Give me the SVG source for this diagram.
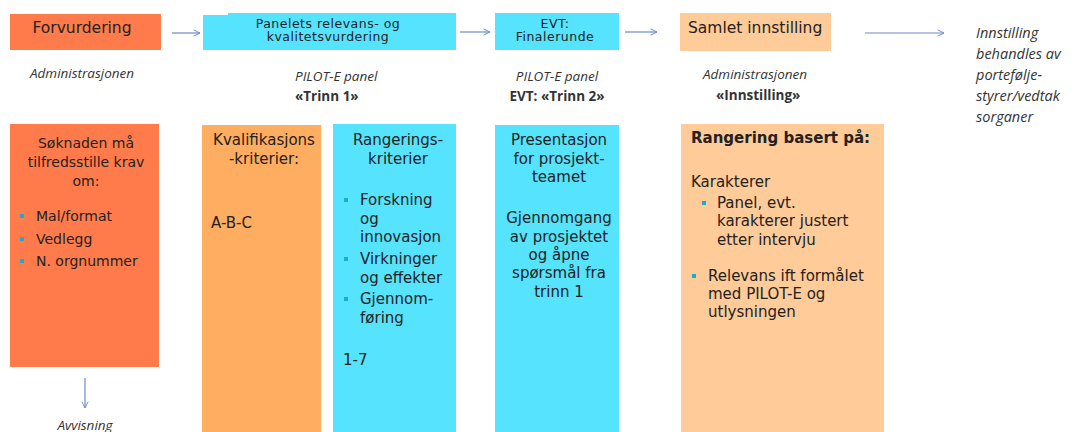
<svg xmlns="http://www.w3.org/2000/svg" width="1074" height="432" viewBox="0 0 1074 432">
<defs>
<style>
.t{font-family:"DejaVu Sans",Verdana,sans-serif;font-size:15px;fill:#222}
.s14{font-size:14px}
.hd{font-size:12.5px;letter-spacing:0.5px}
.c{text-anchor:middle}
.lbl{font-family:"Open Sans","Liberation Sans",sans-serif;font-size:13.5px;fill:#333}
.it{font-style:italic}
.b{font-weight:bold}
.con{stroke:#6F8AC8;stroke-width:1.2;fill:none}
.coral{fill:#FF7B4B}
.cyan{fill:#55E3FE}
.orange{fill:#FFAD60}
.peach{fill:#FFCB98}
.bul{fill:#1BAFC7}
</style>
<marker id="ah" viewBox="0 0 10 10" refX="9" refY="5" markerWidth="8" markerHeight="8" orient="auto" markerUnits="userSpaceOnUse">
<path d="M1,1 L9,5 L1,9" fill="none" stroke="#6F8AC8" stroke-width="1.2"/>
</marker>
</defs>
<rect width="1074" height="432" fill="#fff"/>

<g id="connectors">
<line class="con" x1="172" y1="33" x2="200" y2="33" marker-end="url(#ah)"/>
<line class="con" x1="460" y1="32" x2="490" y2="32" marker-end="url(#ah)"/>
<line class="con" x1="625" y1="32" x2="657" y2="32" marker-end="url(#ah)"/>
<line class="con" x1="865" y1="33" x2="944" y2="33" marker-end="url(#ah)"/>
<line class="con" x1="85" y1="378" x2="85" y2="408" marker-end="url(#ah)"/>
</g>

<g id="forvurdering">
<rect class="coral" x="10" y="14" width="151" height="36"/>
<text class="t c" x="82" y="33" style="font-size:15.5px">Forvurdering</text>
</g>
<g id="panelets">
<rect class="cyan" x="203" y="15" width="253" height="35"/>
<rect class="cyan" x="228" y="13" width="228" height="4"/>
<text class="t c hd" x="328" y="28">Panelets relevans- og</text>
<text class="t c hd" x="328" y="41">kvalitetsvurdering</text>
</g>
<g id="evt">
<rect class="cyan" x="495" y="13" width="124" height="37"/>
<text class="t c hd" x="555" y="28">EVT:</text>
<text class="t c hd" x="555" y="41">Finalerunde</text>
</g>
<g id="samlet">
<rect class="peach" x="680" y="13" width="151" height="38"/>
<text class="t" x="688" y="33" style="font-size:15.5px">Samlet innstilling</text>
</g>
<g id="innstilling-behandles">
<text class="lbl it" x="976" y="38" style="font-size:14.5px">Innstilling</text>
<text class="lbl it" x="976" y="59" style="font-size:14.5px">behandles av</text>
<text class="lbl it" x="976" y="80" style="font-size:14.5px">portefølje-</text>
<text class="lbl it" x="976" y="101" style="font-size:14.5px">styrer/vedtak</text>
<text class="lbl it" x="976" y="122" style="font-size:14.5px">sorganer</text>
</g>

<g id="labels">
<text class="lbl it" x="30" y="78">Administrasjonen</text>
<text class="lbl it" x="295" y="81">PILOT-E panel</text>
<text class="lbl b" x="295" y="101">«Trinn 1»</text>
<text class="lbl it c" x="557" y="81">PILOT-E panel</text>
<text class="lbl b c" x="557" y="101">EVT: «Trinn 2»</text>
<text class="lbl it" x="703" y="79">Administrasjonen</text>
<text class="lbl b" x="716" y="100">«Innstilling»</text>
</g>

<g id="krav">
<rect class="coral" x="10" y="124" width="149" height="243"/>
<text class="t c s14" x="86" y="148">Søknaden må</text>
<text class="t c s14" x="86" y="167">tilfredsstille krav</text>
<text class="t c s14" x="86" y="186">om:</text>
<rect class="bul" x="20" y="214" width="4" height="4"/>
<text class="t s14" x="36" y="221">Mal/format</text>
<rect class="bul" x="20" y="237" width="4" height="4"/>
<text class="t s14" x="36" y="244">Vedlegg</text>
<rect class="bul" x="20" y="259" width="4" height="4"/>
<text class="t s14" x="36" y="266">N. orgnummer</text>
<text class="lbl it c" x="85" y="430">Avvisning</text>
</g>

<g id="kvalifikasjon">
<rect class="orange" x="202" y="125" width="119" height="307"/>
<text class="t c" x="264" y="145">Kvalifikasjons</text>
<text class="t c" x="264" y="164">-kriterier:</text>
<text class="t" x="211" y="228">A-B-C</text>
</g>

<g id="rangering">
<rect class="cyan" x="333" y="124" width="123" height="308"/>
<text class="t c" x="398" y="145">Rangerings-</text>
<text class="t c" x="398" y="164">kriterier</text>
<rect class="bul" x="344" y="198" width="4" height="4"/>
<text class="t" x="360" y="205">Forskning</text>
<text class="t" x="360" y="224">og</text>
<text class="t" x="360" y="242">innovasjon</text>
<rect class="bul" x="344" y="257" width="4" height="4"/>
<text class="t" x="360" y="264">Virkninger</text>
<text class="t" x="360" y="283">og effekter</text>
<rect class="bul" x="344" y="297" width="4" height="4"/>
<text class="t" x="360" y="304">Gjennom-</text>
<text class="t" x="360" y="323">føring</text>
<text class="t" x="343" y="365">1-7</text>
</g>

<g id="presentasjon">
<rect class="cyan" x="495" y="125" width="124" height="307"/>
<text class="t c" x="559" y="145">Presentasjon</text>
<text class="t c" x="559" y="164">for prosjekt-</text>
<text class="t c" x="559" y="182">teamet</text>
<text class="t c" x="559" y="223">Gjennomgang</text>
<text class="t c" x="559" y="242">av prosjektet</text>
<text class="t c" x="559" y="260">og åpne</text>
<text class="t c" x="559" y="278">spørsmål fra</text>
<text class="t c" x="559" y="297">trinn 1</text>
</g>

<g id="rangering-basert">
<rect class="peach" x="681" y="124" width="203" height="308"/>
<text class="t b" x="691" y="143">Rangering basert på:</text>
<text class="t" x="691" y="187">Karakterer</text>
<rect class="bul" x="702" y="201" width="4" height="4"/>
<text class="t" x="717" y="208">Panel, evt.</text>
<text class="t" x="717" y="226">karakterer justert</text>
<text class="t" x="717" y="245">etter intervju</text>
<rect class="bul" x="692" y="274" width="4" height="4"/>
<text class="t" x="708" y="281">Relevans ift formålet</text>
<text class="t" x="708" y="299">med PILOT-E og</text>
<text class="t" x="708" y="317">utlysningen</text>
</g>
</svg>
